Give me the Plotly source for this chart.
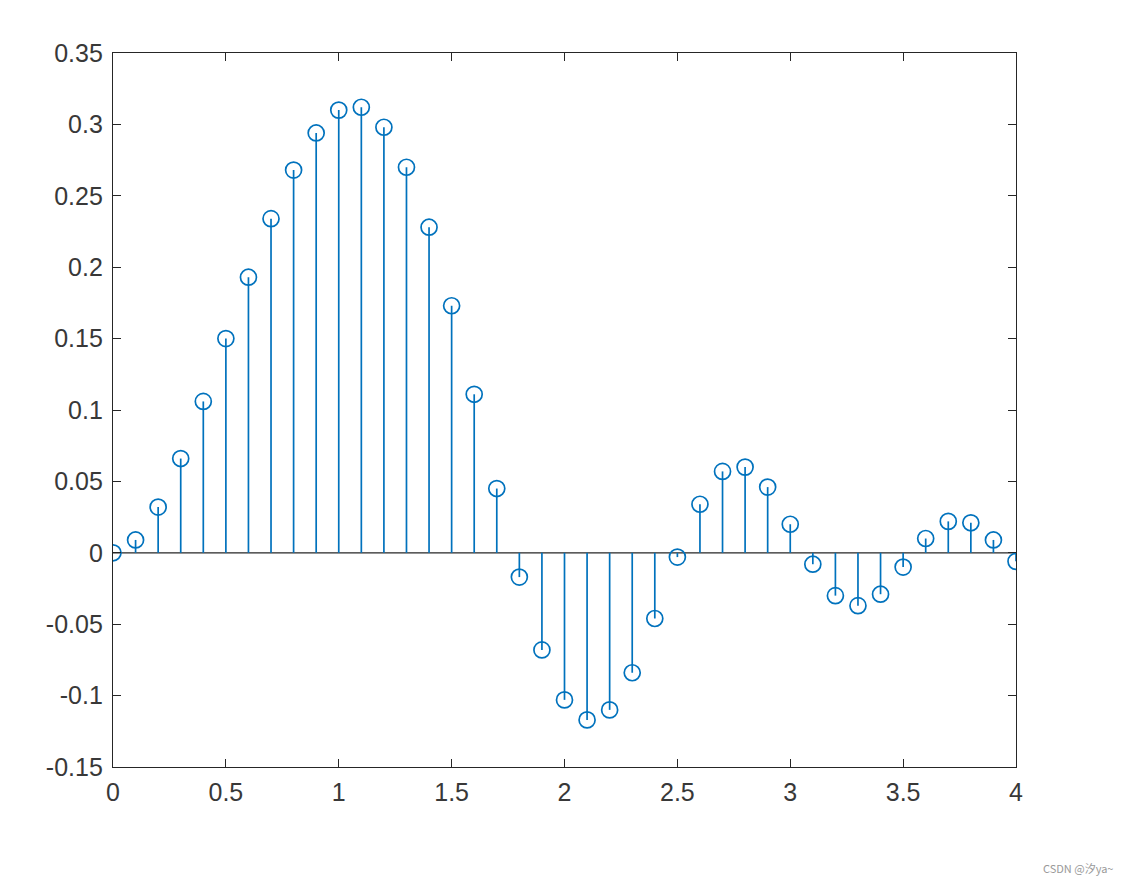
import plotly.graph_objects as go

x_vals = [round(i * 0.1, 1) for i in range(41)]
y_vals = [0.000, 0.009, 0.032, 0.066, 0.106, 0.150, 0.193, 0.234, 0.268, 0.294,
          0.310, 0.312, 0.298, 0.270, 0.228, 0.173, 0.111, 0.045, -0.017, -0.068,
          -0.103, -0.117, -0.110, -0.084, -0.046, -0.003, 0.034, 0.057, 0.060, 0.046,
          0.020, -0.008, -0.030, -0.037, -0.029, -0.010, 0.010, 0.022, 0.021, 0.009,
          -0.006]
x_ticks = [0, 0.5, 1, 1.5, 2, 2.5, 3, 3.5, 4]
x_tick_text = ["0", "0.5", "1", "1.5", "2", "2.5", "3", "3.5", "4"]
y_ticks = [-0.15, -0.1, -0.05, 0, 0.05, 0.1, 0.15, 0.2, 0.25, 0.3, 0.35]
y_tick_text = ["-0.15", "-0.1", "-0.05", "0", "0.05", "0.1", "0.15", "0.2", "0.25", "0.3", "0.35"]

blue = "#0072BD"

stem_x, stem_y = [], []
for xv, yv in zip(x_vals, y_vals):
    stem_x += [xv, xv, None]
    stem_y += [0, yv, None]

fig = go.Figure()
fig.add_trace(go.Scatter(x=[0, 4], y=[0, 0], mode="lines",
                         line=dict(color="#262626", width=1.3), hoverinfo="skip"))
fig.add_trace(go.Scatter(x=stem_x, y=stem_y, mode="lines",
                         line=dict(color=blue, width=1.7), hoverinfo="skip"))
fig.add_trace(go.Scatter(x=x_vals, y=y_vals, mode="markers",
                         marker=dict(symbol="circle-open", size=16, color=blue,
                                     line=dict(width=1.7, color=blue))))

axis_common = dict(showline=True, linecolor="#262626", linewidth=1.3, mirror="allticks",
                   ticks="inside", ticklen=8, tickwidth=1.3, tickcolor="#262626",
                   showgrid=False, zeroline=False,
                   tickfont=dict(family="Liberation Sans, Arial, sans-serif", size=25, color="#383838"))

fig.update_xaxes(range=[0, 4], tickvals=x_ticks, ticktext=x_tick_text,
                 ticklabelstandoff=3, **axis_common)
fig.update_yaxes(range=[-0.15, 0.35], tickvals=y_ticks, ticktext=y_tick_text,
                 ticklabelstandoff=4, **axis_common)

fig.add_annotation(text="CSDN @汐ya~", xref="paper", yref="paper",
                   x=(1070 - 105) / 903, y=-(860 - 759) / 714, showarrow=False,
                   xanchor="center", yanchor="middle",
                   font=dict(family="Noto Sans CJK SC, sans-serif", size=11, color="#999999"))

fig.update_layout(width=1132, height=884, showlegend=False,
                  plot_bgcolor="white", paper_bgcolor="white",
                  margin=dict(l=105, r=124, t=45, b=125))

fig.write_html("out.html")
